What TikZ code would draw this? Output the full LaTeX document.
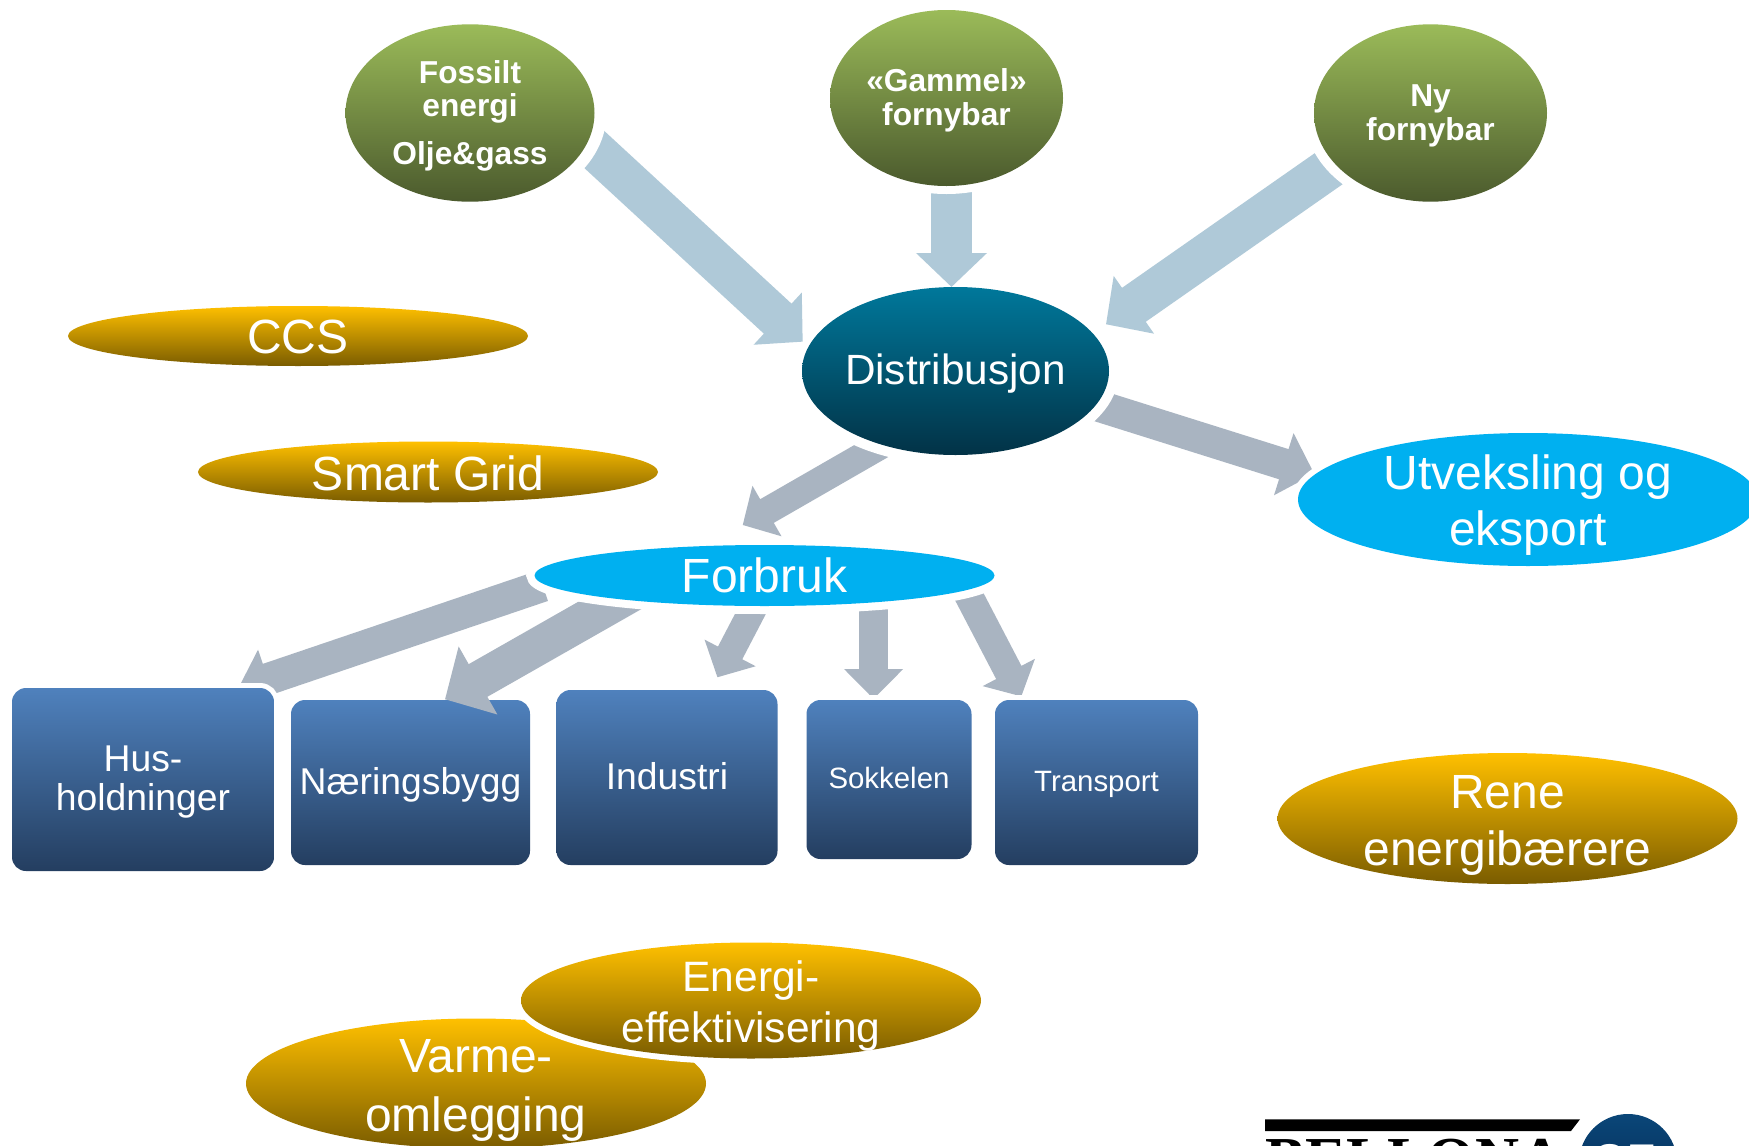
\documentclass[tikz,border=0pt]{standalone}
\usepackage{fontspec}
\setmainfont{Liberation Sans}
\newfontfamily\logoserif{Liberation Serif}
\usetikzlibrary{shapes.geometric,arrows.meta}
\definecolor{arrowblue}{HTML}{AFC9D8}
\definecolor{arrowgray}{HTML}{A9B4C1}
\definecolor{skyfill}{HTML}{00B0F0}
\newcommand{\fs}[2]{\fontsize{#1}{#2}\selectfont}
\tikzset{
  x=1pt,y=-1pt,
  halo/.style={preaction={draw=white,line width=#1}},
  ell/.style={ellipse,inner sep=0pt,outer sep=0pt,minimum width=#1},
  greenell/.style={ell=#1,top color={rgb,255:red,155;green,187;blue,89},bottom color={rgb,255:red,75;green,90;blue,45}},
  goldell/.style={ell=460pt,minimum height=#1,halo=12pt,top color={rgb,255:red,255;green,192;blue,0},bottom color={rgb,255:red,122;green,92;blue,0}},
  tealell/.style={ell=307pt,minimum height=168pt,halo=20pt,top color={rgb,255:red,0;green,120;blue,155},bottom color={rgb,255:red,2;green,50;blue,70}},
  skyell/.style={ell=460pt,minimum height=#1,fill=skyfill},
  box/.style={rectangle,rounded corners=14pt,inner sep=0pt,outer sep=0pt,halo=10pt,
    top color={rgb,255:red,79;green,129;blue,189},bottom color={rgb,255:red,36;green,62;blue,96}},
  lab/.style={text=white,align=center,inner sep=0pt},
  bold/.style={lab,font=\fs{31.7}{33.5}\bfseries},
  big/.style={lab,font=\fs{48}{56}},
  boxbig/.style={lab,font=\fs{37.3}{39}},
  boxsmall/.style={lab,font=\fs{29.4}{32}},
  blockarrow/.style n args={4}{draw=#1,line width=#2,-{Triangle[length=#3,width=#4,fill=#1]}},
}
\begin{document}
\begin{tikzpicture}
\clip (0,0) rectangle (1749,1146);
\fill[white] (0,0) rectangle (1749,1146);

% anchor points of the block arrows
\coordinate (fo) at (575,131.7);
\coordinate (fi) at (802.7,341.7);
\coordinate (go) at (951.5,150);
\coordinate (gi) at (951.5,287);
\coordinate (no) at (1352,152.4);
\coordinate (ni) at (1106,324.3);
\coordinate (uo) at (1080.6,400.3);
\coordinate (ui) at (1314.3,473.8);
\coordinate (fbo) at (894.8,437.5);
\coordinate (fbi) at (742.7,525);
\coordinate (ho) at (542.8,585.8);
\coordinate (hi) at (237.7,689.3);
\coordinate (bo) at (653.6,580.5);
\coordinate (bi) at (445,699.3);
\coordinate (io) at (756.7,601.9);
\coordinate (ii) at (717.4,677.3);
\coordinate (so) at (873.6,595);
\coordinate (si) at (873.6,699);
\coordinate (to) at (963.5,585.6);
\coordinate (ti) at (1021.3,696.4);

% connectors that lie behind the ovals and boxes
\draw[blockarrow={arrowgray}{31.6pt}{32pt}{63.2pt}] (uo) -- (ui);
\draw[blockarrow={arrowgray}{27.3pt}{28pt}{56.6pt}] (fbo) -- (fbi);
\draw[blockarrow={arrowgray}{32pt}{32pt}{60pt}] (ho) -- (hi);
\draw[blockarrow={arrowgray}{27.4pt}{27.5pt}{56pt}] (io) -- (ii);
\draw[blockarrow={arrowgray}{28.7pt}{30pt}{57.3pt}] (so) -- (si);
\draw[blockarrow={arrowgray}{28.5pt}{27pt}{57.4pt}] (to) -- (ti);

% boxes
\node[box,minimum width=262pt,minimum height=183pt,label={[boxbig,yshift=-3pt]center:{Hus-\\holdninger}}] (hus) at (143,779.5) {};
\node[box,minimum width=239pt,minimum height=165pt,label={[boxbig,yshift=-2pt]center:Næringsbygg}] (naer) at (410.5,782.5) {};
\node[box,minimum width=221pt,minimum height=175pt,label={[boxbig,yshift=1pt]center:Industri}] (ind) at (667,777.5) {};
\node[box,minimum width=165pt,minimum height=159pt,label={[boxsmall,yshift=2pt]center:Sokkelen}] (sok) at (889,779.5) {};
\node[box,minimum width=203pt,minimum height=165pt,label={[boxsmall,yshift=-2pt]center:Transport}] (tra) at (1096.5,782.5) {};

% this arrow lies over its box
\draw[blockarrow={arrowgray}{37.6pt}{38pt}{76pt}] (bo) -- (bi);

% centre ovals
\node[tealell,label={[lab,font=\fs{42.3}{48},yshift=-2.5pt]center:Distribusjon}] (dist) at (955.5,371) {};
\node[skyell=133pt,halo=12pt,label={[big,yshift=-5.5pt]center:{Utveksling og\\eksport}}] (utv) at (1528,499.5) {};
\node[skyell=61pt,halo=16pt,label={[big]center:Forbruk}] (forbruk) at (764.5,575.5) {};

% connectors from the top ovals, over the centre oval
\draw[blockarrow={arrowblue}{40.8pt}{34pt}{69pt}] (fo) -- (fi);
\draw[blockarrow={arrowblue}{41.5pt}{34pt}{69pt}] (go) -- (gi);
\draw[blockarrow={arrowblue}{41.4pt}{34pt}{68.4pt}] (no) -- (ni);

% top ovals
\node[greenell=249pt,halo=24pt,minimum height=177.4pt,label={[bold,yshift=-2.5pt]center:{Fossilt\\energi\\[14pt]Olje\&gass}}] (fossil) at (470,113) {};
\node[greenell=233pt,halo=16pt,minimum height=176pt,label={[bold,yshift=-2.5pt]center:{«Gammel»\\fornybar}}] (gammel) at (946.5,98) {};
\node[greenell=233pt,halo=20pt,minimum height=177.4pt,label={[bold,yshift=-3pt]center:{Ny\\fornybar}}] (ny) at (1430.5,113) {};

% gold ovals
\node[goldell=60pt,label={[big,yshift=-1pt]center:CCS}] (ccs) at (298,336) {};
\node[goldell=61pt,label={[big,yshift=-1.5pt]center:Smart Grid}] (grid) at (428,472) {};
\node[goldell=131pt,label={[big,font=\fs{48}{57},yshift=-7pt]center:{Rene\\energibærere}}] (rene) at (1507.5,818.5) {};
\node[goldell=130pt,label={[lab,font=\fs{48}{59},yshift=-6.5pt]center:{Varme-\\omlegging}}] (varme) at (476,1083.5) {};
\node[goldell=116pt,label={[lab,font=\fs{42.5}{51},yshift=-5pt]center:{Energi-\\effektivisering}}] (energi) at (751,1000.5) {};

% logo
\fill[black] (1265,1119.3) -- (1580,1119.3) -- (1571,1131) -- (1265,1131) -- cycle;
\shade[top color={rgb,255:red,10;green,70;blue,120},bottom color={rgb,255:red,5;green,40;blue,80}] (1628,1163) circle[radius=49];
\node[anchor=base west,inner sep=0pt,font=\fs{61}{61}\logoserif\bfseries,text=black] (logotext) at (1265,1179) {BELLONA};
\node[anchor=base,inner sep=0pt,font=\fs{56}{56}\bfseries,text=white] (logonum) at (1626,1183) {85};
\end{tikzpicture}
\end{document}
